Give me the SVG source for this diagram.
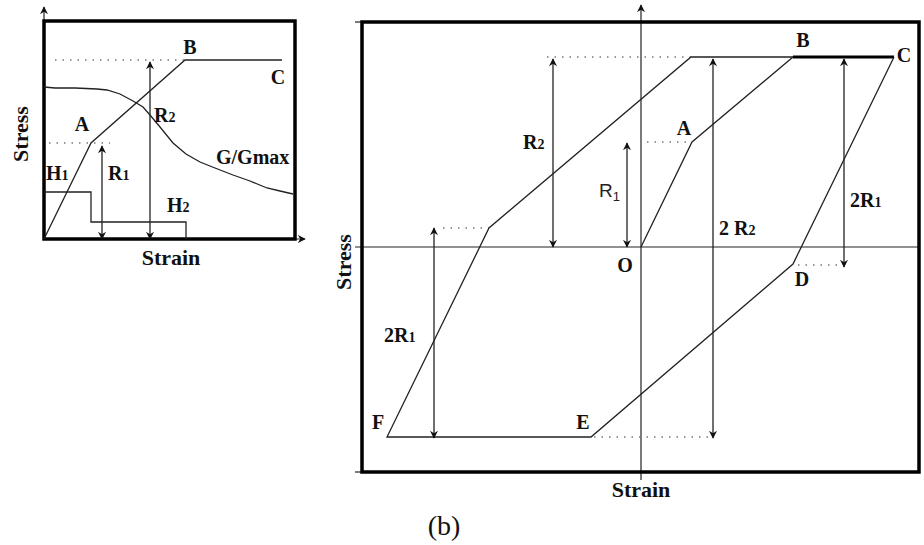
<svg xmlns="http://www.w3.org/2000/svg" width="924" height="545" viewBox="0 0 924 545">
<defs>
<marker id="ah" viewBox="0 0 10 10" refX="9" refY="5" markerWidth="8" markerHeight="8" markerUnits="userSpaceOnUse" orient="auto-start-reverse">
<path d="M0,0 L10,5 L0,10 L3,5 Z" fill="#111"/>
</marker>
</defs>
<style>
.frame{fill:none;stroke:#000;stroke-width:3.5}
.ln{fill:none;stroke:#222;stroke-width:1.3}
.ax{fill:none;stroke:#222;stroke-width:1.2}
.dot{fill:none;stroke:#777;stroke-width:1.5;stroke-dasharray:1.5 6}
.dim{fill:none;stroke:#222;stroke-width:1.3;marker-start:url(#ah);marker-end:url(#ah)}
.lb{font-family:"Liberation Serif","Times New Roman",serif;font-weight:bold;font-size:20px;fill:#111}
.ttl{font-family:"Liberation Serif","Times New Roman",serif;font-weight:bold;font-size:22px;fill:#111}
.sub{font-size:14px}
</style>
<rect width="924" height="545" fill="#fff"/>

<g id="panel-a">
<line class="ax" x1="44" y1="240" x2="44" y2="7" marker-end="url(#ah)"/>
<line class="ax" x1="44" y1="239" x2="305" y2="239" marker-end="url(#ah)"/>
<rect class="frame" x="44" y="21" width="251" height="218"/>
<line class="dot" x1="55" y1="60" x2="185" y2="60"/>
<line class="dot" x1="49" y1="143" x2="110" y2="143"/>
<polyline class="ln" points="44,239 91,143 185,60 282,60"/>
<polyline class="ln" points="44,87 55,88 75,88 97,89 107,90 120,94 133,101 143,107 150,115 160,127 173,143 186,154 200,162 215,168 233,175 250,181 267,188 280,191 293,194"/>
<polyline class="ln" stroke-width="1.6" points="44,192 91,192 91,222 186,222 186,239"/>
<line class="dim" x1="150" y1="62" x2="150" y2="239"/>
<line class="dim" x1="102" y1="146" x2="102" y2="239"/>
<text class="lb" x="190" y="54" text-anchor="middle">B</text>
<text class="lb" x="278" y="84" text-anchor="middle">C</text>
<text class="lb" x="82" y="131" text-anchor="middle">A</text>
<text class="lb" x="154" y="122">R<tspan class="sub">2</tspan></text>
<text class="lb" x="216" y="164">G/Gmax</text>
<text class="lb" x="46" y="180">H<tspan class="sub">1</tspan></text>
<text class="lb" x="108" y="180">R<tspan class="sub">1</tspan></text>
<text class="lb" x="167" y="212">H<tspan class="sub">2</tspan></text>
<text class="ttl" x="0" y="0" text-anchor="middle" transform="translate(28,134) rotate(-90)">Stress</text>
<text class="ttl" x="171" y="265" text-anchor="middle">Strain</text>
</g>

<g id="panel-b">
<line class="ax" x1="355" y1="22" x2="362" y2="22"/>
<line class="ax" x1="355" y1="472" x2="362" y2="472"/>
<line class="ax" x1="355" y1="247" x2="920" y2="247"/>
<line class="ax" x1="641" y1="480" x2="641" y2="5" marker-end="url(#ah)"/>
<rect class="frame" x="362" y="22" width="557" height="450"/>
<line class="dot" x1="547" y1="57" x2="691" y2="57"/>
<line class="dot" x1="443" y1="228" x2="489" y2="228"/>
<line class="dot" x1="647" y1="142" x2="692" y2="142"/>
<line class="dot" x1="798" y1="265" x2="843" y2="265"/>
<line class="dot" x1="594" y1="437" x2="712" y2="437"/>
<polyline class="ln" points="641,247 692,142 793,57"/>
<line x1="793" y1="57" x2="894" y2="57" stroke="#000" stroke-width="3"/>
<polyline class="ln" points="894,57 793,264 591,437 387,437 489,228 691,57 793,57"/>
<line class="dim" x1="553" y1="59" x2="553" y2="247"/>
<line class="dim" x1="627" y1="143" x2="627" y2="247"/>
<line class="dim" x1="713" y1="59" x2="713" y2="438"/>
<line class="dim" x1="844" y1="59" x2="844" y2="267"/>
<line class="dim" x1="434" y1="228" x2="434" y2="438"/>
<text class="lb" x="803" y="47" text-anchor="middle">B</text>
<text class="lb" x="904" y="62" text-anchor="middle">C</text>
<text class="lb" x="684" y="135" text-anchor="middle">A</text>
<text class="lb" x="523" y="149">R<tspan class="sub">2</tspan></text>
<text x="599" y="197" font-family="'Liberation Sans',Arial,sans-serif" font-size="19" fill="#222">R<tspan font-size="13" dy="4">1</tspan></text>
<text class="lb" x="719" y="235">2 R<tspan class="sub">2</tspan></text>
<text class="lb" x="850" y="207">2R<tspan class="sub">1</tspan></text>
<text class="lb" x="625" y="272" text-anchor="middle">O</text>
<text class="lb" x="802" y="286" text-anchor="middle">D</text>
<text class="lb" x="378" y="429" text-anchor="middle">F</text>
<text class="lb" x="583" y="429" text-anchor="middle">E</text>
<text class="lb" x="384" y="342">2R<tspan class="sub">1</tspan></text>
<text class="ttl" x="0" y="0" text-anchor="middle" transform="translate(351,262) rotate(-90)">Stress</text>
<text class="ttl" x="641" y="497" text-anchor="middle">Strain</text>
</g>

<text x="444" y="535" text-anchor="middle" font-family="'Liberation Serif','Times New Roman',serif" font-size="28" fill="#111">(b)</text>
</svg>
